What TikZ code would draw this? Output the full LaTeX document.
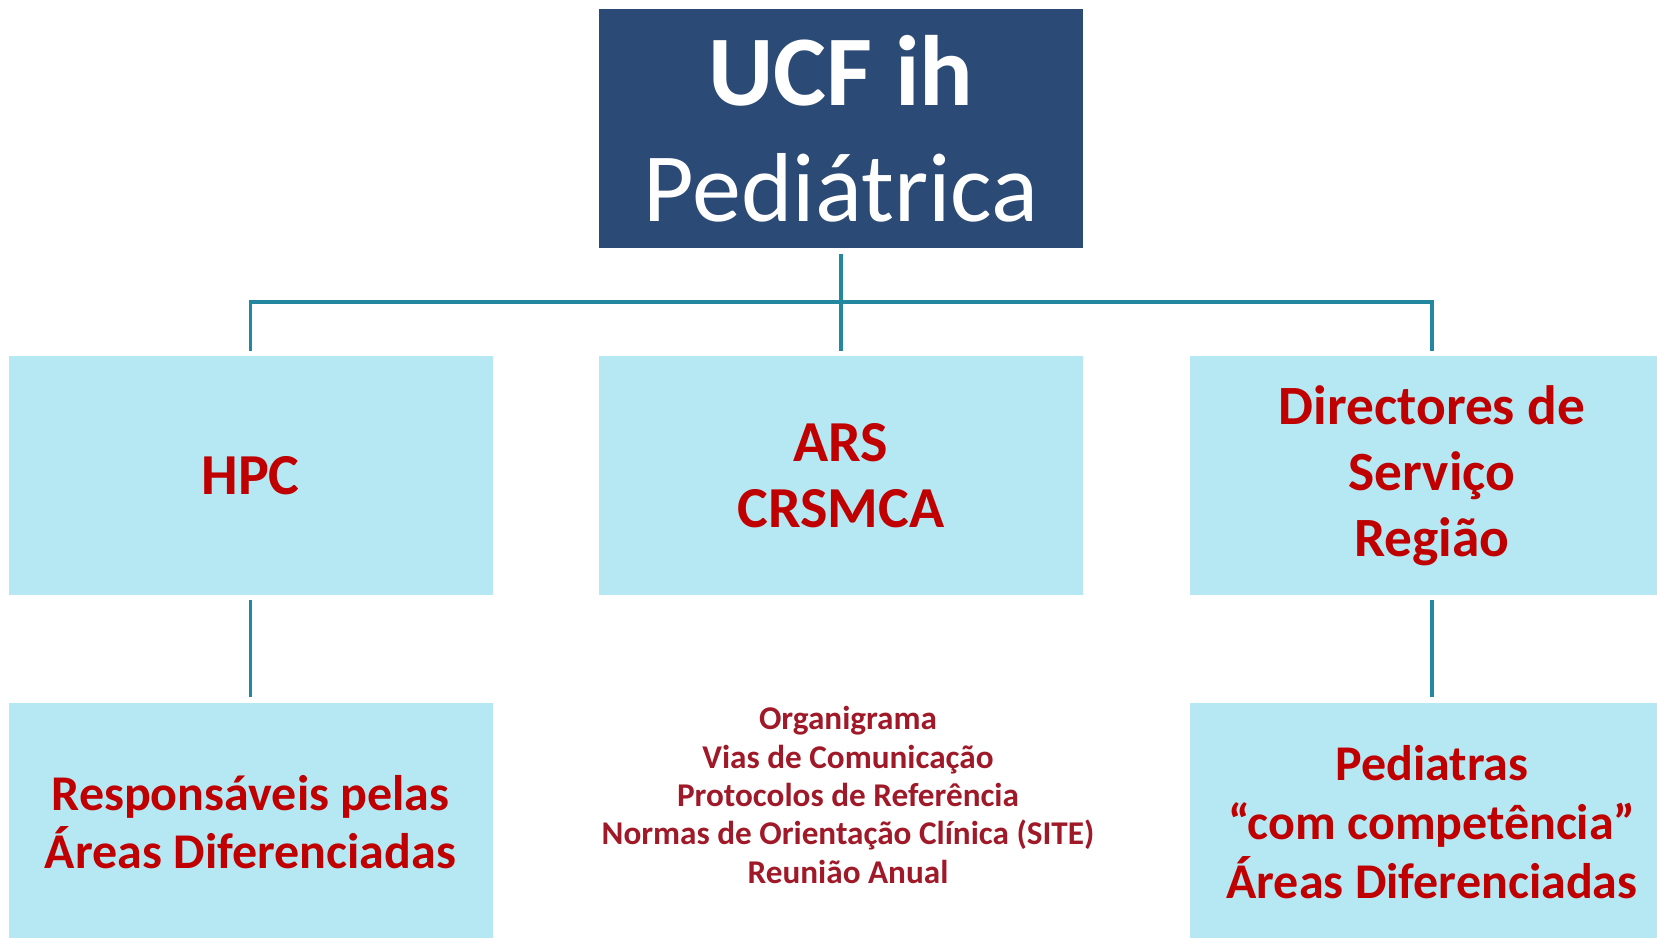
\documentclass[tikz,border=0pt]{standalone}
\usepackage{fontspec}
\setmainfont{Carlito}
\usepackage{tikz}

\definecolor{topblue}{RGB}{44,74,118}
\definecolor{lightbox}{RGB}{181,232,243}
\definecolor{linkteal}{RGB}{35,135,160}
\definecolor{boxred}{RGB}{192,0,0}
\definecolor{listred}{RGB}{160,25,40}

\begin{document}
\begin{tikzpicture}
[x={(0.5pt,0)},y={(0,-0.5pt)},
 box/.style={fill=lightbox,minimum width=242pt,minimum height=119.5pt,inner sep=0pt,align=center,text=boxred,font=\bfseries\fontsize{29}{33}\selectfont},
 link/.style={draw=linkteal,line width=1.8pt},]
\useasboundingbox (0,0) rectangle (1657,937);
\clip (0,0) rectangle (1657,937);

%\node (ucf) top box
\node (ucf) at (841,128.5)[box,fill=topblue,text=white,font=\fontsize{50}{58}\selectfont]{\textbf{UCF ih}\\\fontsize{49}{58}\selectfont Pediátrica};

\node (hpc) at (250.5,475.5)[box]{HPC};
\node (ars) at (841,475.5)[box]{ARS\\CRSMCA};
\node (dir) at (1432,475.5)[box,font=\bfseries\fontsize{27.7}{33}\selectfont]{Directores de\\Serviço\\Região};

\node (resp) at (250.5,822.5)[box,font=\bfseries\fontsize{25}{29}\selectfont]{Responsáveis pelas\\Áreas Diferenciadas};
\node (ped) at (1432,822.5)[box,font=\bfseries\fontsize{25}{29.5}\selectfont]{Pediatras\\“com competência”\\Áreas Diferenciadas};

\node (lista) at (848,795)[align=center,text=listred,font=\bfseries\fontsize{16.6}{19.2}\selectfont]{Organigrama\\Vias de Comunicação\\Protocolos de Referência\\Normas de Orientação Clínica (SITE)\\Reunião Anual};

\coordinate (bar) at (841,302);
\draw[link,shorten <=3pt,shorten >=2.5pt] (ucf) -- (ars);
\draw[link] ([yshift=2.5pt]hpc.north) |- (bar) -| ([yshift=2.5pt]dir.north);
\draw[link,shorten <=2.5pt,shorten >=3pt] (hpc) -- (resp);
\draw[link,shorten <=2.5pt,shorten >=3pt] (dir) -- (ped);

\end{tikzpicture}
\end{document}
